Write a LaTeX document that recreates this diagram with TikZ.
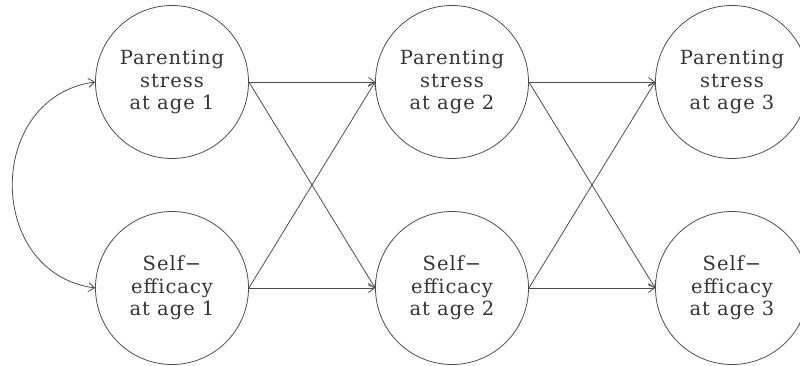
\documentclass[tikz,border=0pt]{standalone}
\usepackage{fontspec}
\setmainfont{DejaVu Serif}[LetterSpace=5]
\usetikzlibrary{arrows.meta}
\tikzset{
  var/.style={circle, draw=black!70, line width=0.8pt, minimum size=153pt, inner sep=0pt,
    align=center, text=black!80, font=\fontsize{19.5}{22.5}\selectfont},
  link/.style={draw=black!70, line width=0.8pt, -{Straight Barb[length=6pt,width=9pt]}}
}
\begin{document}
\begin{tikzpicture}[x=1pt,y=-1pt]
\useasboundingbox (0,0) rectangle (800,365);
\node[var] (p1) at (172,82) {Parenting\\stress\\at age 1};
\node[var] (p2) at (452,82) {Parenting\\stress\\at age 2};
\node[var] (p3) at (732,82) {Parenting\\stress\\at age 3};
\node[var] (s1) at (172,288) {Self−\\efficacy\\at age 1};
\node[var] (s2) at (452,288) {Self−\\efficacy\\at age 2};
\node[var] (s3) at (732,288) {Self−\\efficacy\\at age 3};
\draw[link] (p1.east) -- (p2.west);
\draw[link] (p1.east) -- (s2.west);
\draw[link] (s1.east) -- (p2.west);
\draw[link] (s1.east) -- (s2.west);
\draw[link] (p2.east) -- (p3.west);
\draw[link] (p2.east) -- (s3.west);
\draw[link] (s2.east) -- (p3.west);
\draw[link] (s2.east) -- (s3.west);
\draw[link, {Straight Barb[length=6pt,width=9pt]}-{Straight Barb[length=6pt,width=9pt]}]
  (s1.west) .. controls (-15,273) and (-15,97) .. (p1.west);
\end{tikzpicture}
\end{document}
